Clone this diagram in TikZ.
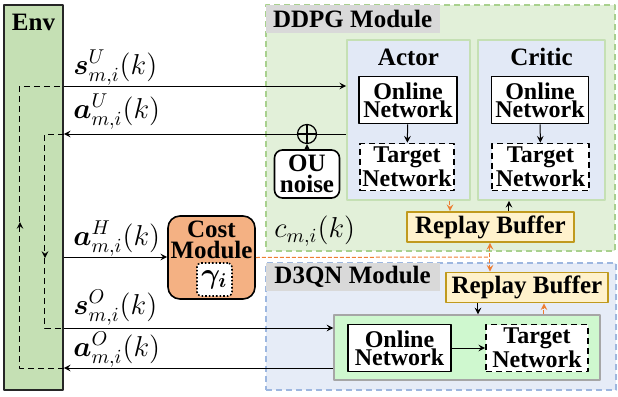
\documentclass[tikz,border=0pt]{standalone}
\usepackage{amsmath,bm}
\usepackage{fontspec}
\setmainfont{Liberation Serif}
\definecolor{envfill}{HTML}{C5E0B4}
\definecolor{ddpgfill}{HTML}{E2F0D9}
\definecolor{ddpgline}{HTML}{A9D18E}
\definecolor{grpfill}{HTML}{E2E9F6}
\definecolor{d3fill}{HTML}{E6ECF7}
\definecolor{d3line}{HTML}{9DB7E0}
\definecolor{innfill}{HTML}{CFF8CF}
\definecolor{hdgray}{HTML}{D9D9D9}
\definecolor{rbfill}{HTML}{FFF2CC}
\definecolor{rbline}{HTML}{C09A1E}
\definecolor{costfill}{HTML}{F4B183}
\definecolor{orng}{HTML}{ED7D31}
\begin{document}
\begin{tikzpicture}[x=0.5pt,y=-0.5pt,line join=round,>=stealth]
	\tikzset{every node/.style={inner sep=0pt},
		bx/.style={font=\bfseries\fontsize{12.5}{10.5}\selectfont,align=center},
		net/.style={bx,draw,thick,fill=white,font=\bfseries\fontsize{12}{9}\selectfont,minimum height=23.5pt},
		tnet/.style={net,densely dashed},
		mod/.style={dashed,thick,dash pattern=on 3pt off 2pt},
		hdr/.style={bx,fill=hdgray,anchor=north west,minimum width=87pt,minimum height=14pt},
		grp/.style={draw=envfill,fill=grpfill,thick},
		rbuf/.style={bx,draw=rbline,fill=rbfill,thick,minimum height=15pt},
		sig/.style={font=\fontsize{14.5}{16}\selectfont,anchor=west},
		odash/.style={orng,line width=0.5pt,dash pattern=on 2pt off 1pt},
		wire/.style={line width=0.5pt}}
	\useasboundingbox (0,0) rectangle (618,397);
	% signal levels and loop columns
	\coordinate (sU) at (0,86);  \coordinate (aU) at (0,134);
	\coordinate (aH) at (0,257); \coordinate (sO) at (0,328);
	\coordinate (aO) at (0,368);
	\coordinate (lpA) at (20,0); \coordinate (lpB) at (45,0);
	\coordinate (mkA) at (0,222); \coordinate (mkB) at (0,258);
	% environment
	\node[draw=black!85,thick,fill=envfill,minimum width=29.5pt,minimum height=192.5pt] (env) at (33.5,197.5) {};
	\node[bx] (envlbl) at (33.5,22) {Env};
	% DDPG module
	\node[mod,draw=ddpgline,fill=ddpgfill,minimum width=174.5pt,minimum height=123pt] (ddpg) at (440.5,128) {};
	\node[hdr] (ddpghd) at (ddpg.north west) {DDPG Module};
	\node[grp,minimum width=61.5pt,minimum height=80pt] (actor) at (408.5,120) {};
	\node[grp,minimum width=63.5pt,minimum height=80pt] (critic) at (541.5,120) {};
	\node[bx] (actorlbl) at (408.5,57) {Actor};
	\node[bx] (criticlbl) at (541.5,57) {Critic};
	\node[net,minimum width=49pt] (aon) at (408,100) {Online\\Network};
	\node[tnet,minimum width=47pt] (atg) at (407,167) {Target\\Network};
	\node[net,minimum width=48.5pt] (con) at (540,100) {Online\\Network};
	\node[tnet,minimum width=48.5pt] (ctg) at (540.5,167) {Target\\Network};
	\node[rbuf,minimum width=83.5pt] (rb1) at (490.5,227) {Replay Buffer};
	\node[circle,draw,line width=0.6pt,minimum size=9.5pt] (oplus) at (307,134) {};
	\node[bx,draw,thick,rounded corners=4pt,fill=white,minimum width=32.5pt,minimum height=24pt] (ou) at (307,174) {OU\\noise};
	\node[sig] (cml) at (274,231) {$c_{m,i}(k)$};
	% D3QN module
	\node[mod,draw=d3line,fill=d3fill,minimum width=175pt,minimum height=63.5pt] (d3qn) at (441,326.5) {};
	\node[hdr] (d3hd) at (d3qn.north west) {D3QN Module};
	\node[rbuf,minimum width=81pt] (rb2) at (527,287.5) {Replay Buffer};
	\node[draw=black!35,fill=innfill,line width=0.6pt,minimum width=133pt,minimum height=32.5pt] (dqn) at (467,347.5) {};
	\node[net,minimum width=51.5pt] (don) at (399.5,348) {Online\\Network};
	\node[tnet,minimum width=51pt] (dtg) at (537,348) {Target\\Network};
	% cost module
	\node[draw,thick,fill=costfill,rounded corners=6pt,minimum width=43.5pt,minimum height=41.5pt] (cost) at (211.5,257.5) {};
	\node[bx] (costlbl) at (211.5,240) {Cost\\Module};
	\node[draw,densely dotted,thick,fill=white,rounded corners=2pt,minimum width=17.5pt,minimum height=16.5pt] (gam) at (214.5,279.5) {\fontsize{14}{15}\selectfont$\bm{\gamma_i}$};
	% signal labels
	\node[sig] (sUl) at (73,68) {$\bm{s}^{U}_{m,i}(k)$};
	\node[sig] (aUl) at (73,112) {$\bm{a}^{U}_{m,i}(k)$};
	\node[sig] (aHl) at (73,239) {$\bm{a}^{H}_{m,i}(k)$};
	\node[sig] (sOl) at (73,308) {$\bm{s}^{O}_{m,i}(k)$};
	\node[sig] (aOl) at (73,350) {$\bm{a}^{O}_{m,i}(k)$};
	% connectors
	\draw[wire,->] (env.east|-sU) -- (actor.west|-sU);
	\draw[wire] (actor.west|-aU) -- (oplus.east);
	\draw[wire,->] (oplus.west) -- (env.east|-aU);
	\draw[line width=0.6pt] (oplus.north) -- (oplus.south) (oplus.east) -- (oplus.west);
	\draw[wire,->] (ou) -- (oplus);
	\draw[wire,->] (env.east|-aH) -- (cost.west|-aH);
	\draw[wire,->] (env.east|-sO) -- (dqn.west|-sO);
	\draw[wire,->] (dqn.west|-aO) -- (env.east|-aO);
	\draw[wire,densely dashed,->] (env.east|-aO) -| (lpA|-mkA);
	\draw[wire,densely dashed] (lpA|-mkA) |- (env.east|-sU);
	\draw[wire,densely dashed,->] (env.east|-aU) -| (lpB|-mkB);
	\draw[wire,densely dashed] (lpB|-mkB) |- (env.east|-sO);
	\draw[wire,->] (aon) -- (atg);
	\draw[wire,->] (con) -- (ctg);
	\draw[wire,->] (don) -- (dtg);
	\draw[odash,->] (actor.south-|450,0) -- (rb1.north-|450,0);
	\draw[wire,->] (rb1.north-|509,0) -- (critic.south-|509,0);
	\draw[odash] (cost.east) -- (490,257);
	\draw[odash,<->] (rb1.south-|490,0) -- (rb2.north-|490,0);
	\draw[wire,->] (rb2.south-|478,0) -- (dqn.north-|478,0);
	\draw[odash,->] (dqn.north-|544,0) -- (rb2.south-|544,0);
\end{tikzpicture}
\end{document}
